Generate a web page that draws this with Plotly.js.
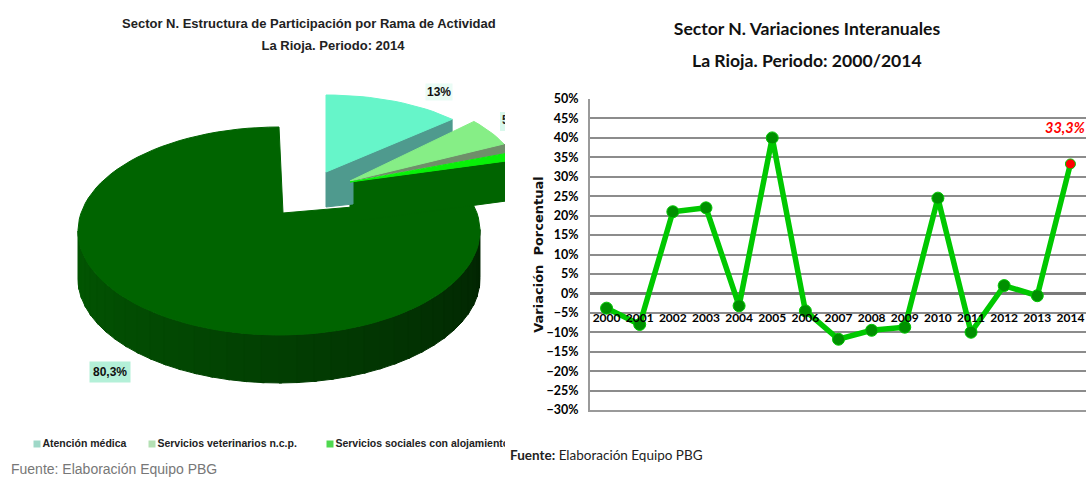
<!DOCTYPE html>
<html><head><meta charset="utf-8">
<script src="https://cdn.plot.ly/plotly-3.0.1.min.js"></script>
<style>html,body{margin:0;padding:0;background:#fff}#c{width:1086px;height:479px}</style>
</head><body><div id="c"></div>
<script>
// ---- Line chart data
const years = ['2000','2001','2002','2003','2004','2005','2006','2007','2008','2009','2010','2011','2012','2013','2014'];
const variation = [-3.8,-8,21,22,-3.2,40,-4.5,-11.8,-9.5,-8.7,24.5,-10,2,-0.6,33.3];
// ---- Pie data
const sliceNames = ['Atención médica','Servicios veterinarios n.c.p.','Servicios sociales con alojamiento','Servicios sociales sin alojamiento'];
const sliceShares = [13,5,1.7,80.3];

const W=1086,H=479;
const narrow='Lato,"Liberation Sans",sans-serif';
const sans='"Liberation Sans",sans-serif';

// angles from the shares (clockwise from 12 o'clock)
const cum=[0]; sliceShares.forEach(s=>cum.push(cum[cum.length-1]+s*3.6));
const pt=(g,t)=>{const a=t*Math.PI/180;return [g.cx+g.rx*Math.sin(a),g.cy-g.ry*Math.cos(a)];};
const arc=(g,t0,t1,dy=0)=>{const n=Math.max(4,Math.ceil(Math.abs(t1-t0)/3)),o=[];
  for(let i=0;i<=n;i++){const p=pt(g,t0+(t1-t0)*i/n);o.push([p[0],p[1]+dy]);}return o;};
const poly=(pts,color)=>({type:'scatter',mode:'lines',xaxis:'x2',yaxis:'y2',hoverinfo:'skip',showlegend:false,
  x:pts.concat([pts[0]]).map(p=>p[0]),y:pts.concat([pts[0]]).map(p=>p[1]),fill:'toself',fillcolor:color,
  line:{color:color,width:1}});

// projected pie geometry
const gMain={cx:279,cy:231,rx:201,ry:104}, apexMain=[283,213], depth=48;
const gAqua={cx:326,cy:172,rx:173,ry:77};
const gLight={cx:350,cy:181,rx:170,ry:87};
const gBright={cx:350,cy:182,rx:180,ry:70};
const colAqua='#66f5c9',colAquaSide='#4f9a8e',colLight='#86ee86',colLightSide='#6f8f6a',colBright='#08f008',colMain='#006400';

const pieTraces=[];
// main side wall, shaded from left to right
const seg=36;
for(let i=0;i<seg;i++){
  const f=i/(seg-1);
  const t0=270-180*i/seg, t1=270-180*(i+1)/seg-0.8;
  const gg=Math.round(86-50*Math.pow(f,1.1));
  pieTraces.push(poly(arc(gMain,t0,t1).concat(arc(gMain,t1,t0,depth)),`rgb(2,${gg},2)`));
}
pieTraces.push(poly([apexMain].concat(arc(gMain,cum[3],cum[4])),colMain));
// wall under the small slices
const brightEnd=pt(gBright,cum[3]);
const wallD=40;
pieTraces.push(poly([[gBright.cx,gBright.cy],brightEnd,[brightEnd[0],brightEnd[1]+wallD],[gBright.cx,gBright.cy+wallD]],colMain));
// aqua slice faces
const aquaEnd=pt(gAqua,cum[1]);
pieTraces.push(poly([[gAqua.cx,gAqua.cy],aquaEnd,[aquaEnd[0],aquaEnd[1]+16],[gLight.cx+3,gLight.cy],[gLight.cx+3,gLight.cy+23],[gAqua.cx,gAqua.cy+35]],colAquaSide));
pieTraces.push(poly([[gAqua.cx,gAqua.cy]].concat(arc(gAqua,cum[0],cum[1])),colAqua));
// light slice + its edge
const lightEnd=pt(gLight,cum[2]);
pieTraces.push(poly([[gLight.cx,gLight.cy],lightEnd,pt(gBright,cum[2])],colLightSide));
pieTraces.push(poly([[gLight.cx,gLight.cy]].concat(arc(gLight,cum[1],cum[2])),colLight));
pieTraces.push(poly([[gBright.cx,gBright.cy]].concat(arc(gBright,cum[2],cum[3])),colBright));

const pct=v=>String(v).replace('.',',')+'%';
// text drawn as clipped scatter text, so it is cut at the panel edge like the picture
const leftText={type:'scatter',mode:'text',xaxis:'x2',yaxis:'y2',hoverinfo:'skip',showlegend:false,cliponaxis:true,
  x:[122],y:[25],text:['<b>Sector N. Estructura de Participación por Rama de Actividad</b>'],textposition:'middle right',
  textfont:{family:sans,size:13,color:'#222'}};
const leftText2={...leftText,x:[333],y:[47],text:['<b>La Rioja. Periodo: 2014</b>'],textposition:'middle center'};
const fiveLabel={...leftText,x:[502],y:[121],text:['<b>'+pct(sliceShares[1])+'</b>'],textposition:'middle right',textfont:{family:sans,size:12,color:'#222'}};
const legendMarks={type:'scatter',mode:'markers+text',xaxis:'x2',yaxis:'y2',hoverinfo:'skip',showlegend:false,cliponaxis:true,
  x:[37,152,330],y:[444,444,444],text:sliceNames.slice(0,3).map(s=>'<b>'+s+'</b>'),textposition:'middle right',
  textfont:{family:sans,size:10.5,color:'#222'},
  marker:{symbol:'square',size:7,color:['#9fd8c8','#b4e0b4','#4fd84f']}};

const lineTrace={type:'scatter',mode:'lines+markers',name:'Variación interanual',x:years,y:variation,
  line:{color:'#00c800',width:5.5},
  marker:{opacity:1,size:years.map((_,i)=>i===years.length-1?10:12),color:years.map((_,i)=>i===years.length-1?'#ff0000':'#009000')},hoverinfo:'x+y'};

const layout={width:W,height:H,margin:{l:0,r:0,t:0,b:0},paper_bgcolor:'#fff',plot_bgcolor:'#fff',showlegend:false,
  title:{text:'<b>Sector N. Variaciones Interanuales</b>',x:807/W,xanchor:'center',y:1-29/H,yanchor:'middle',
    font:{family:narrow,size:17.6,color:'#111'}},
  xaxis:{domain:[590/W,1],type:'category',range:[-0.5,14.47],showgrid:false,zeroline:false,showline:true,linecolor:'#9a9a9a',linewidth:2,
    ticks:'',tickangle:0,ticklabelstandoff:-104,tickfont:{family:narrow,size:12,color:'#000'},tickprefix:'<b>',ticksuffix:'</b>',anchor:'y'},
  yaxis:{domain:[(H-410)/H,(H-99)/H],range:[-30,50],tickmode:'linear',tick0:-30,dtick:5,tickprefix:'<b>',ticksuffix:'%</b>',
    gridcolor:'#8c8c8c',gridwidth:2,zeroline:true,zerolinecolor:'#7a7a7a',zerolinewidth:2.5,showline:true,linecolor:'#9a9a9a',linewidth:2,
    ticks:'',ticklabelstandoff:7,tickfont:{family:narrow,size:12.5,color:'#000'},anchor:'x',
    title:{text:'<b>Variación  Porcentual</b>',standoff:0,font:{family:'"DejaVu Sans",sans-serif',size:13,color:'#111'}}},
  xaxis2:{domain:[0,505/W],range:[0,505],visible:false,fixedrange:true,anchor:'y2'},
  yaxis2:{domain:[0,1],range:[H,0],visible:false,fixedrange:true,anchor:'x2'},
  shapes:[
   {type:'rect',xref:'x2',yref:'y2',x0:500,x1:505,y0:112,y1:131,fillcolor:'#d8f8ec',line:{width:0},layer:'below'}
  ],
  annotations:[
   {xref:'paper',yref:'paper',x:807/W,y:1-61/H,xanchor:'center',yanchor:'middle',showarrow:false,
    text:'<b>La Rioja. Periodo: 2000/2014</b>',font:{family:narrow,size:17.6,color:'#111'}},
   {xref:'x',yref:'y',x:14,y:variation[14],xanchor:'center',yanchor:'middle',xshift:-5,yshift:36,showarrow:false,
    text:'<b><i>'+pct(variation[14])+'</i></b>',font:{family:narrow,size:14.5,color:'#ff0000'}},
   {xref:'paper',yref:'paper',x:508/W,y:1-455/H,xanchor:'left',yanchor:'middle',showarrow:false,
    text:'<b>Fuente:</b> Elaboración Equipo PBG',font:{family:narrow,size:13.5,color:'#222'}},
   {xref:'x2',yref:'y2',x:439,y:92,xanchor:'center',yanchor:'middle',showarrow:false,bgcolor:'#eafcf5',
    text:'<b>'+pct(sliceShares[0])+'</b>',font:{family:sans,size:12,color:'#111'}},
   {xref:'x2',yref:'y2',x:110,y:372,xanchor:'center',yanchor:'middle',showarrow:false,bgcolor:'#b4f0d8',borderpad:3,
    text:'<b>'+pct(sliceShares[3])+'</b>',font:{family:sans,size:12,color:'#111'}},
   {xref:'paper',yref:'paper',x:9/W,y:1-469/H,xanchor:'left',yanchor:'middle',showarrow:false,
    text:'Fuente: Elaboración Equipo PBG',font:{family:sans,size:14,color:'#777'}}
  ]};

Plotly.newPlot('c',[lineTrace].concat(pieTraces,[leftText,leftText2,fiveLabel,legendMarks]),layout,{displayModeBar:false,staticPlot:true});
</script></body></html>
